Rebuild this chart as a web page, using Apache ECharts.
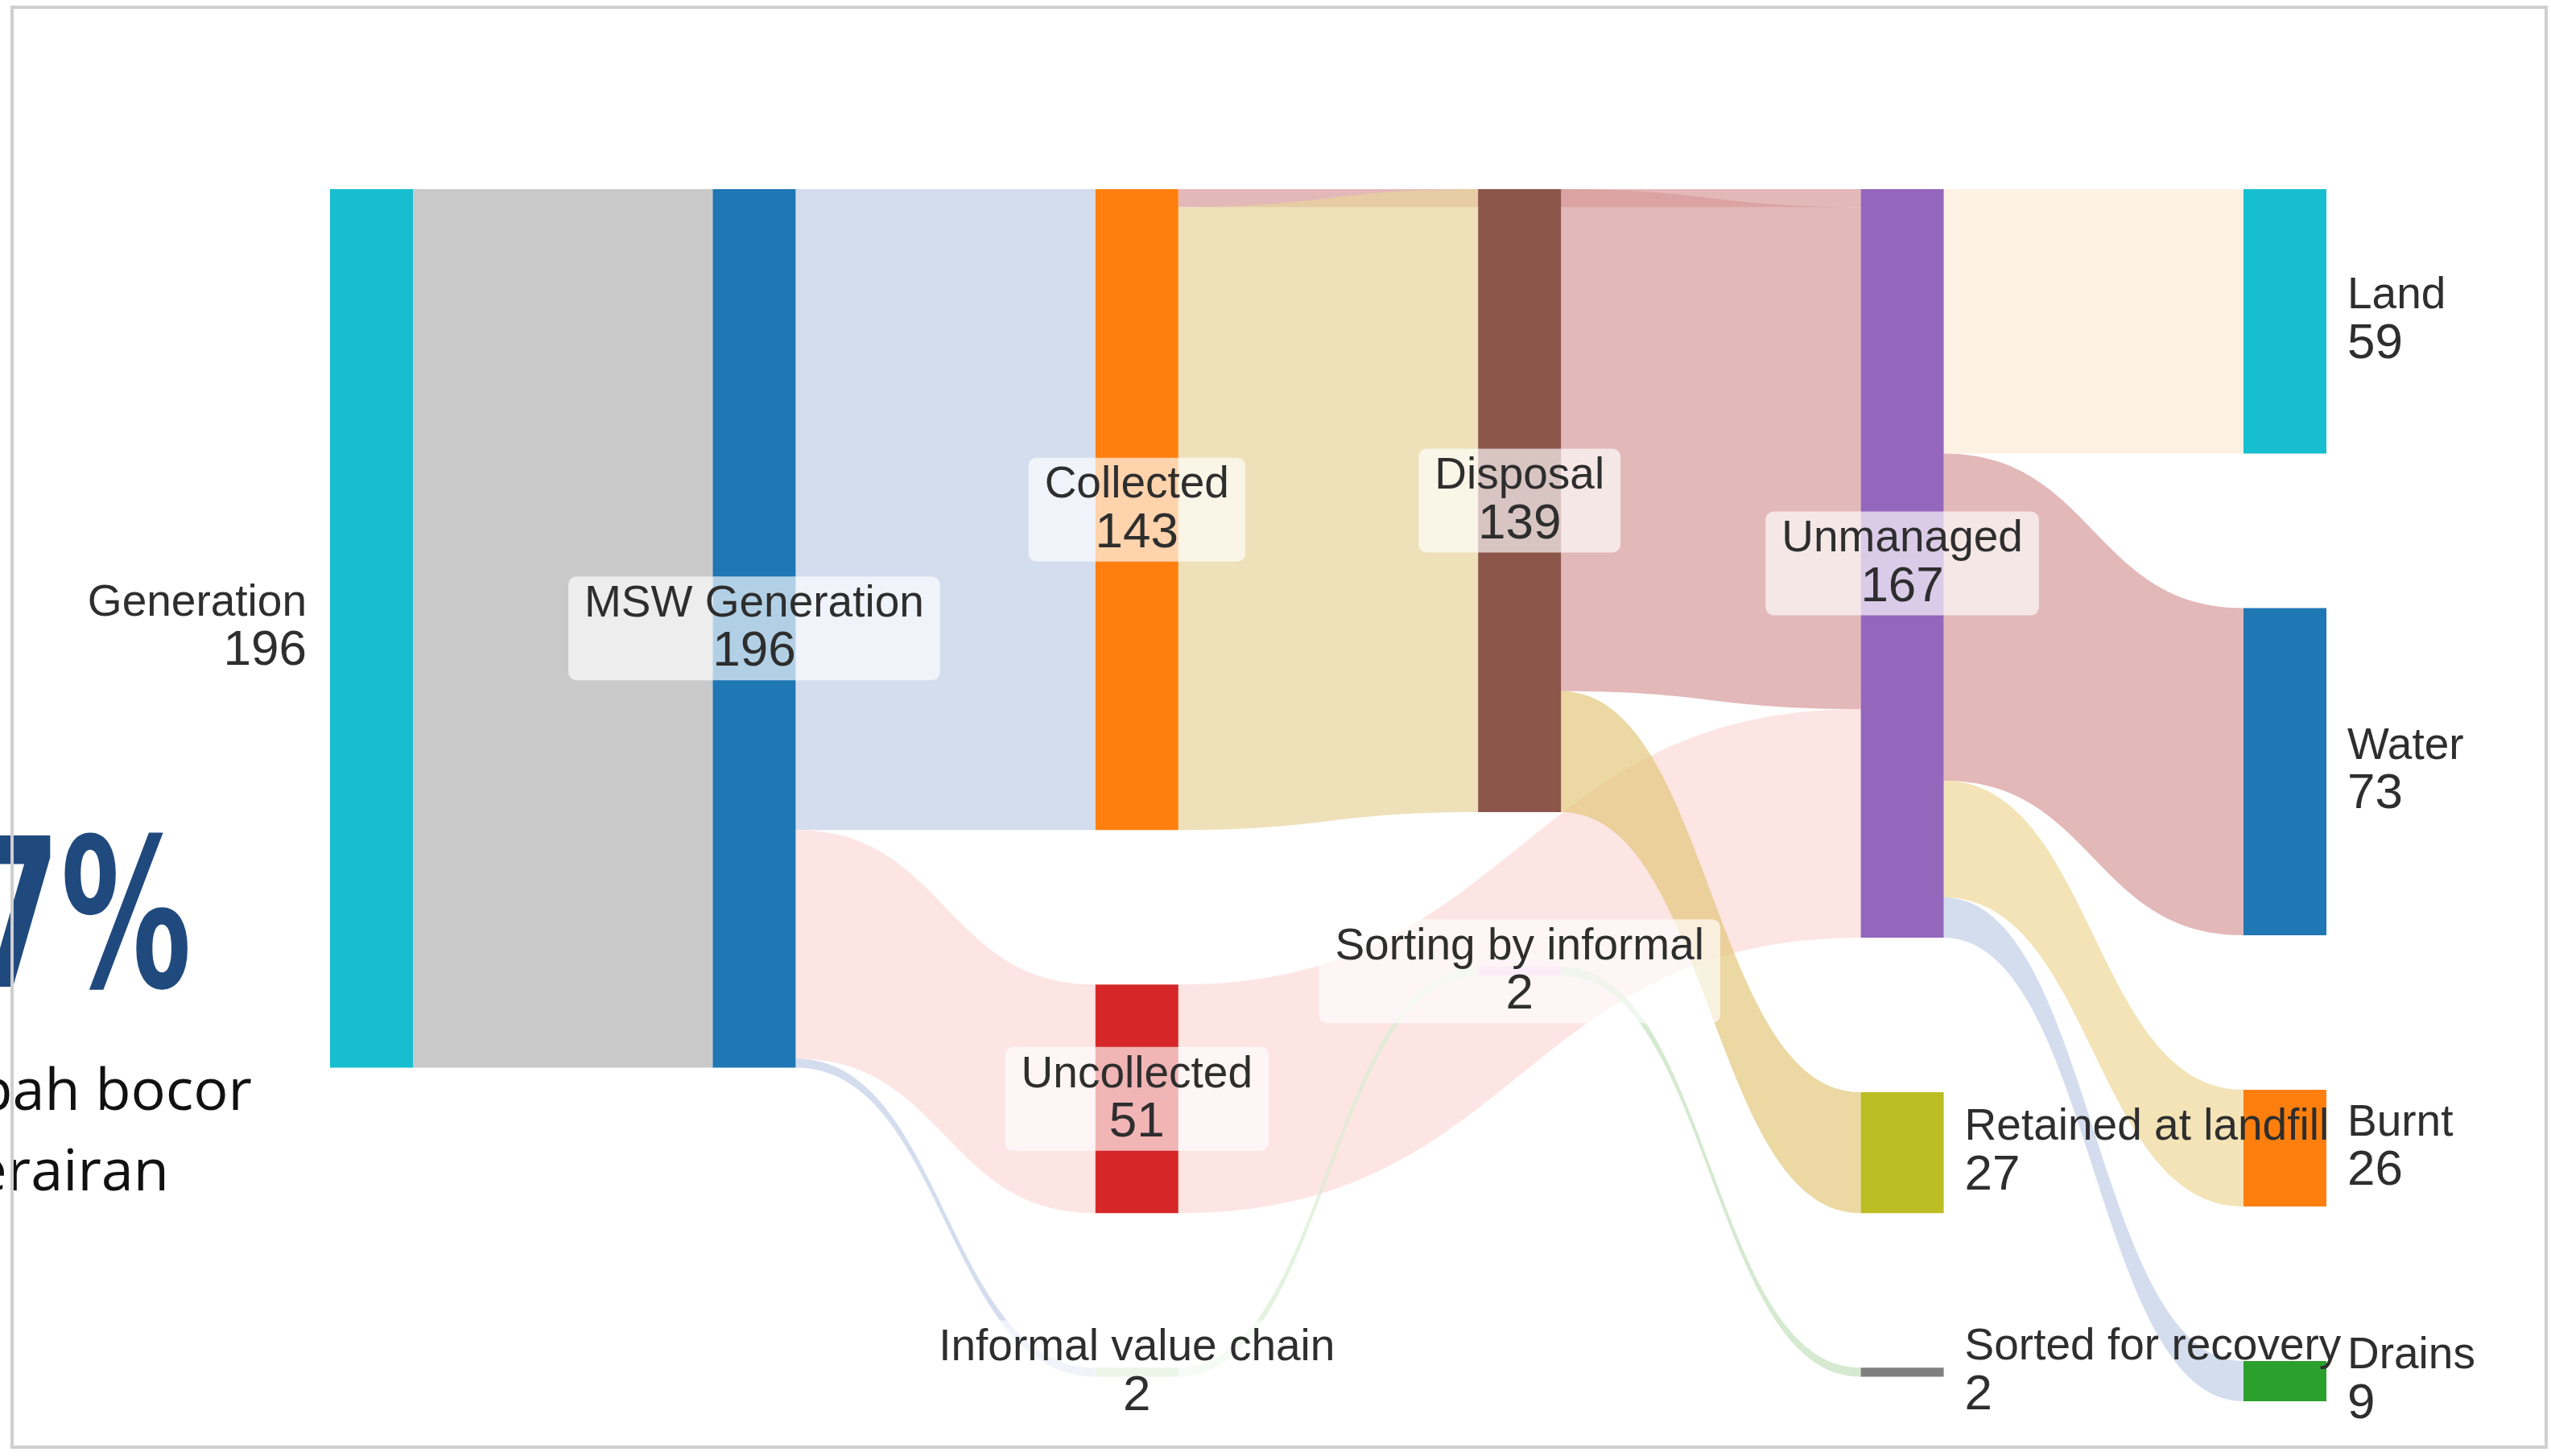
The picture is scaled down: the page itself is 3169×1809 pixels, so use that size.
<!DOCTYPE html>
<html>
<head>
<meta charset="utf-8">
<script src="https://cdn.jsdelivr.net/npm/echarts@6/dist/echarts.min.js"></script>
<style>
html,body{margin:0;padding:0;background:#ffffff;}
#chart{width:3169px;height:1809px;}
</style>
</head>
<body>
<div id="chart"></div>
<script>
// ---- data ----
const nodeNames = ['Generation', 'MSW Generation', 'Collected', 'Uncollected', 'Informal value chain',
  'Disposal', 'Sorting by informal', 'Unmanaged', 'Retained at landfill', 'Sorted for recovery',
  'Land', 'Water', 'Burnt', 'Drains'];
const linkSources = ['Generation', 'MSW Generation', 'MSW Generation', 'MSW Generation',
  'Collected', 'Collected', 'Uncollected', 'Disposal', 'Disposal',
  'Informal value chain', 'Sorting by informal',
  'Unmanaged', 'Unmanaged', 'Unmanaged', 'Unmanaged'];
const linkTargets = ['MSW Generation', 'Collected', 'Uncollected', 'Informal value chain',
  'Unmanaged', 'Disposal', 'Unmanaged', 'Unmanaged', 'Retained at landfill',
  'Sorting by informal', 'Sorted for recovery',
  'Land', 'Water', 'Burnt', 'Drains'];
const linkValues = [196, 143, 51, 2, 4, 139, 51, 112, 27, 2, 2, 59, 73, 26, 9];

// ---- styles ----
const FONT = '"Liberation Sans", Arial, Helvetica, sans-serif';
const nodeColors = {
  'Generation': '#17becf', 'MSW Generation': '#1f77b4', 'Collected': '#ff7f0e', 'Uncollected': '#d62728',
  'Informal value chain': '#c3e3bd', 'Disposal': '#8c564b', 'Sorting by informal': '#f2c9e6',
  'Unmanaged': '#9467bd', 'Retained at landfill': '#bcbd22', 'Sorted for recovery': '#7f7f7f',
  'Land': '#17becf', 'Water': '#1f77b4', 'Burnt': '#ff7f0e', 'Drains': '#2ca02c'
};
const linkTints = ['#c9c9c9', '#d4ddee', '#fde5e3', '#d4ddee',
  '#e3b8b8', '#eee0b9', '#fde5e3', '#e3b8b8', '#ebd8a3',
  '#e4f2e0', '#d5ead0',
  '#fdf1e4', '#e3b8b8', '#f3e3b6', '#d4ddee'];
const labelSide = {
  'Generation': 'left', 'Retained at landfill': 'right', 'Sorted for recovery': 'right',
  'Land': 'right', 'Water': 'right', 'Burnt': 'right', 'Drains': 'right'
};
function over(hex, a) {
  const r = parseInt(hex.slice(1, 3), 16), g = parseInt(hex.slice(3, 5), 16), b = parseInt(hex.slice(5, 7), 16);
  const f = v => Math.max(0, Math.round(255 - (255 - v) / a));
  return 'rgba(' + f(r) + ',' + f(g) + ',' + f(b) + ',' + a + ')';
}
function richFor(align) {
  return {
    n: { fontSize: 55, lineHeight: 57, color: '#2e2e2e', fontFamily: FONT, align: align },
    v: { fontSize: 62, lineHeight: 62, color: '#2e2e2e', fontFamily: FONT, align: align }
  };
}

const nodes = nodeNames.map(function (name) {
  const side = labelSide[name] || 'inside';
  let label;
  if (side === 'inside') {
    label = { position: 'inside', backgroundColor: 'rgba(255,255,255,0.66)', padding: [6, 20, 4, 20],
      borderRadius: 10, align: 'center', rich: richFor('center') };
  } else {
    label = { position: side, distance: side === 'left' ? 29 : 26,
      align: side === 'left' ? 'right' : 'left', rich: richFor(side === 'left' ? 'right' : 'left') };
  }
  return { name: name, itemStyle: { color: nodeColors[name] }, label: label };
});
const links = linkSources.map(function (s, i) {
  return { source: s, target: linkTargets[i], value: linkValues[i],
    lineStyle: { color: over(linkTints[i], 0.7), opacity: 1 } };
});

const chart = echarts.init(document.getElementById('chart'), null, { renderer: 'canvas' });
chart.setOption({
  animation: false,
  backgroundColor: '#ffffff',
  graphic: [
    { type: 'text', x: 238, y: 1030, scaleX: 0.7, z: 10,
      style: { text: '7%', textAlign: 'right', textVerticalAlign: 'top', fill: '#204a7e',
        font: '900 258px "Liberation Sans Narrow", "DejaVu Sans Condensed", "Liberation Sans", sans-serif' } },
    { type: 'text', x: 313, y: 1322, z: 10,
      style: { text: 'Sampah bocor', textAlign: 'right', textVerticalAlign: 'top', fill: '#111111',
        font: '72px "Open Sans", "Noto Sans", sans-serif' } },
    { type: 'text', x: 210, y: 1422, z: 10,
      style: { text: 'ke perairan', textAlign: 'right', textVerticalAlign: 'top', fill: '#111111',
        font: '72px "Open Sans", "Noto Sans", sans-serif' } },
    { type: 'rect', z: 20, shape: { x: 15, y: 9, width: 3148, height: 1789 },
      style: { fill: 'none', stroke: '#cfcfcf', lineWidth: 4 } }
  ],
  series: [{
    type: 'sankey',
    left: 410, right: 279, top: 235, bottom: 68,
    nodeWidth: 103, nodeGap: 192,
    nodeAlign: 'left',
    layoutIterations: 0,
    draggable: false,
    emphasis: { disabled: true },
    lineStyle: { curveness: 0.5 },
    label: { show: true, formatter: '{n|{b}}\n{v|{c}}', fontFamily: FONT },
    data: nodes,
    links: links
  }]
});
</script>
</body>
</html>
